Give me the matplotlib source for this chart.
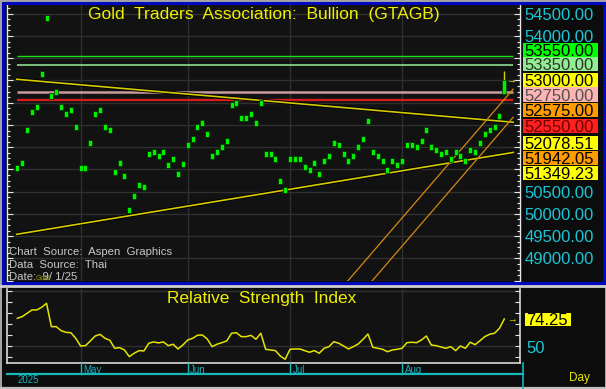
import numpy as np
import pandas as pd
import matplotlib
matplotlib.use("Agg")
import matplotlib.pyplot as plt
from matplotlib.path import Path
from matplotlib.patches import Rectangle
from matplotlib.ticker import MultipleLocator

plt.rcParams['font.family'] = ['Liberation Sans', 'DejaVu Sans']

# ---------------- data ----------------
dates = pd.bdate_range("2025-04-14", "2025-09-01")
close = [51039, 51145, 51893, 52291, 52397, 53146, 54398, 52644, 52748, 52397,
         52246, 52343, 51947, 51039, 51039, 51594, 52246, 52343, 51947, 51893,
         50942, 51145, 50846, 50088, 50396, 50643, 50598, 51347, 51399, 51295,
         51399, 51100, 51241, 50891, 51122, 51543, 51691, 51947, 52044, 51797,
         51295, 51392, 51498, 51646, 52449, 52494, 52150, 52150, 52246, 52044,
         52494, 51347, 51347, 51241, 50747, 50545, 51241, 51241, 51241, 51048,
         50994, 51145, 50897, 51197, 51295, 51594, 51543, 51347, 51197, 51295,
         51498, 51691, 52096, 51392, 51295, 51197, 50994, 51197, 51093, 51197,
         51543, 51543, 51498, 51646, 51893, 51498, 51444, 51347, 51392, 51241,
         51392, 51295, 51197, 51444, 51392, 51594, 51797, 51893, 51947, 52195,
         53000]
last_open, last_high = 52690, 53210

rsi = [74.9, 76.4, 79.4, 82.5, 82.5, 84.9, 88.5, 67.3, 67.3, 63.6,
       62.1, 61.8, 56.7, 49.7, 50.0, 54.3, 58.8, 60.3, 56.7, 54.9,
       47.6, 48.2, 46.1, 40.0, 43.1, 45.5, 45.2, 52.2, 53.4, 52.5,
       53.4, 50.0, 51.3, 47.0, 50.6, 55.2, 56.7, 59.5, 59.7, 56.1,
       49.1, 51.3, 52.7, 54.3, 61.3, 61.8, 58.2, 58.2, 59.4, 55.8,
       61.3, 46.7, 46.1, 45.5, 40.6, 37.6, 46.7, 47.0, 47.0, 45.5,
       44.0, 45.5, 43.1, 47.6, 49.1, 53.6, 52.2, 49.7, 47.0, 49.1,
       51.5, 55.8, 60.6, 48.5, 47.6, 46.7, 44.5, 46.1, 46.7, 47.6,
       52.7, 53.1, 52.7, 55.2, 58.8, 50.6, 50.0, 48.8, 47.6, 49.1,
       45.5, 49.7, 47.6, 53.1, 50.9, 54.5, 58.2, 60.4, 61.3, 65.8,
       74.25]

level_values = [53550, 53350, 52750, 52550]
level_colors = ['#18e018', '#8ede8e', '#c99c9c', '#d41c1c']
level_widths = [1.0, 1.2, 1.8, 1.7]

trend_upper = (53026, 52078.51)   # value at bar 0, bar 100
trend_lower = (49544, 51349.23)
chan_upper = (70, 48765, 100, 52575.00)
chan_lower = (75, 48767, 100, 51942.05)

label_values = [53550.00, 53350.00, 53000.00, 52750.00, 52575.00,
                52550.00, 52078.51, 51942.05, 51349.23]
label_faces = ['#00ff00', '#90ee90', '#ffff00', '#ffb4b4', '#ff9c00',
               '#ff2020', '#ffff00', '#ff9c00', '#ffff00']
label_texts = ['#000000', '#303030', '#000000', '#505050', '#000000',
               '#700000', '#000000', '#000000', '#000000']
axis_label_values = [54500, 54000, 50500, 50000, 49500, 49000]
rsi_last_label = "74.25"
title = "Gold  Traders  Association:  Bullion  (GTAGB)"
rsi_title = "Relative  Strength  Index"
source_lines = ["Chart  Source:  Aspen  Graphics", "Data  Source:  Thai", "Date:  9/ 1/25"]

# ---------------- layout ----------------
W, H = 606, 389
BAR0_PX, BAR_DX = 17.3, 4.87
MAIN_BOX = (7, 5, 520, 281)
RSI_BOX = (7, 288.5, 520, 362.7)
XLIM = ((MAIN_BOX[0] - BAR0_PX) / BAR_DX, (MAIN_BOX[2] - BAR0_PX) / BAR_DX)
MAIN_YLIM = (48492, 54697)
RSI_YLIM = (34.5, 102)
LINE_X0, LINE_X1 = -0.1, 101.8
label_y_px = [49.7, 63.8, 80.3, 94.5, 110, 125.8, 143, 158.3, 173]

GRID = '#303030'
BG = '#121212'
CYAN = '#1cc6d6'
YEL = '#ecec00'

fig = plt.figure(figsize=(W / 100, H / 100), dpi=100, facecolor='#101010')


def add_ax(box, z):
    x0, y0, x1, y1 = box
    return fig.add_axes([x0 / W, 1 - y1 / H, (x1 - x0) / W, (y1 - y0) / H], zorder=z)


def px_x(i):
    return MAIN_BOX[0] + (i - XLIM[0]) / (XLIM[1] - XLIM[0]) * (MAIN_BOX[2] - MAIN_BOX[0])


def px_main(v):
    return MAIN_BOX[1] + (MAIN_YLIM[1] - v) / (MAIN_YLIM[1] - MAIN_YLIM[0]) * (MAIN_BOX[3] - MAIN_BOX[1])


def px_rsi(v):
    return RSI_BOX[1] + (RSI_YLIM[1] - v) / (RSI_YLIM[1] - RSI_YLIM[0]) * (RSI_BOX[3] - RSI_BOX[1])


# background overlay
bg = fig.add_axes([0, 0, 1, 1], zorder=-10)
bg.set_xlim(0, W); bg.set_ylim(H, 0); bg.axis('off')
bg.add_patch(Rectangle((0, 0), W, H, fc='#0c0c0c', ec='none'))

idx = np.arange(len(close))
month_idx = [i for i in range(1, len(dates)) if dates[i].month != dates[i - 1].month and i < len(dates) - 1]
month_names = [dates[i].strftime('%b') for i in month_idx]

# ---------------- main panel ----------------
ax = add_ax(MAIN_BOX, 1)
ax.set_facecolor(BG)
ax.set_xlim(*XLIM)
ax.set_ylim(*MAIN_YLIM)
ax.yaxis.set_major_locator(MultipleLocator(500))
ax.yaxis.set_minor_locator(MultipleLocator(125))
ax.set_xticks(month_idx)
ax.grid(True, which='major', color=GRID, lw=1.0, zorder=0)
ax.tick_params(axis='x', which='both', bottom=False, top=False, labelbottom=False)
ax.tick_params(axis='y', which='both', direction='in', left=True, right=True,
               labelleft=False, labelright=False, colors='#e8e8e8', width=0.8)
ax.tick_params(axis='y', which='major', length=4)
ax.tick_params(axis='y', which='minor', length=2.5)
for s in ['top', 'bottom']:
    ax.spines[s].set_visible(False)
for s in ['left', 'right']:
    ax.spines[s].set_color('#e8e8e8'); ax.spines[s].set_linewidth(1.0)

ax.hlines(level_values, LINE_X0, LINE_X1, colors=level_colors, lw=level_widths, zorder=2)

xs = np.array([LINE_X0, LINE_X1])
for a, b in [trend_upper, trend_lower]:
    ys = a + (b - a) * xs / 100.0
    ax.plot(xs, ys, color='#000000', lw=2.6, zorder=2.5, solid_capstyle='butt')
    ax.plot(xs, ys, color='#d6ca00', lw=1.2, zorder=3)
for i0, v0, i1, v1 in [chan_upper, chan_lower]:
    slope = (v1 - v0) / (i1 - i0)
    cx = np.array([55, LINE_X1])
    ax.plot(cx, v0 + slope * (cx - i0), color='#d28a10', lw=0.9, zorder=3)

rect = Path([(-0.36, -0.5), (0.36, -0.5), (0.36, 0.5), (-0.36, 0.5), (-0.36, -0.5)],
            [Path.MOVETO, Path.LINETO, Path.LINETO, Path.LINETO, Path.CLOSEPOLY])
ax.plot(idx[:-1], close[:-1], ls='none', marker=rect, ms=4.2, mfc='#00f000',
        mec='#002a00', mew=0.5, zorder=4)
ax.vlines(idx[-1], close[-1], last_high, color='#c8d400', lw=1.0, zorder=4)
ax.bar(idx[-1], close[-1] - last_open, bottom=last_open, width=0.75,
       color='#00f000', edgecolor='#002a00', lw=0.4, zorder=5)
ax.text(101.3, close[-1], '\u2192', color=YEL, fontsize=7, ha='center', va='center', zorder=6)

# ---------------- RSI panel ----------------
rax = add_ax(RSI_BOX, 1)
rax.set_facecolor(BG)
rax.set_xlim(*XLIM)
rax.set_ylim(*RSI_YLIM)
rax.set_yticks([50, 100])
rax.yaxis.set_minor_locator(MultipleLocator(10))
rax.set_xticks(month_idx)
rax.grid(True, which='major', color=GRID, lw=1.0, zorder=0)
rax.tick_params(axis='x', which='both', bottom=False, top=False, labelbottom=False)
rax.tick_params(axis='y', which='both', direction='in', left=True, right=True,
                labelleft=False, labelright=False, colors='#e8e8e8', width=0.8, length=3.5)
rax.spines['top'].set_visible(False)
for s in ['left', 'right', 'bottom']:
    rax.spines[s].set_color('#d8d8d8'); rax.spines[s].set_linewidth(1.2)
rax.plot(idx, rsi, color='#e4e400', lw=1.1, zorder=3)
rax.text(101.6, rsi[-1], '\u2192', color=YEL, fontsize=7, ha='center', va='center', zorder=6)

# ---------------- foreground overlay (frames, texts, labels) ----------------
fg = fig.add_axes([0, 0, 1, 1], zorder=10)
fg.set_xlim(0, W); fg.set_ylim(H, 0); fg.axis('off'); fg.patch.set_alpha(0)

# frames
fg.add_patch(Rectangle((0.5, 0.5), W - 1, H - 1, fill=False, ec='#a8a8a8', lw=1.4))
fg.add_patch(Rectangle((3, 2.8), W - 5.5, 280.4, fill=False, ec='#0008c0', lw=2.2))
fg.plot([0, W], [286.2, 286.2], color='#d0d0d0', lw=2.0)
fg.plot([0, W], [388, 388], color='#c0c0c0', lw=1.6)

# titles
fg.text(263.5, 14, title, ha='center', va='center', color='#f0f000', fontsize=12.6)
fg.text(262, 298.5, rsi_title, ha='center', va='center', color='#f0f000', fontsize=12.4)

# source texts
for k, s in enumerate(source_lines):
    fg.text(9, 255 + k * 12.6, s, ha='left', va='baseline', color='#c8c8c8', fontsize=8.2)
fg.text(36, 279.5, 'Gold', ha='left', va='baseline', color='#a0a000', fontsize=5)

# right axis plain labels (cyan)
for v in axis_label_values:
    fg.text(524.5, px_main(v) + 6, f"{v:.2f}", ha='left', va='baseline',
            color=CYAN, fontsize=12, zorder=2)

# coloured value boxes
for v, yp, fc, tc in zip(label_values, label_y_px, label_faces, label_texts):
    fg.add_patch(Rectangle((523, yp - 7.1), 74.5, 14.2, fc=fc, ec='none', zorder=3))
    fg.text(524.5, yp + 6, f"{v:.2f}", ha='left', va='baseline', color=tc, fontsize=12, zorder=4)

# RSI right labels
yr = px_rsi(rsi[-1])
fg.add_patch(Rectangle((524.5, yr - 6.2), 46.5, 12.8, fc='#ffff00', ec='none', zorder=3))
fg.text(526, yr + 6, rsi_last_label, ha='left', va='baseline', color='#000000', fontsize=12, zorder=4)
fg.text(526, px_rsi(50) + 7.5, "50", ha='left', va='baseline', color=CYAN, fontsize=12)

# date strip
fg.plot([7, 522.6], [374, 374], color='#18b8b8', lw=1.6)
fg.plot([522.6, 522.6], [362.7, 389], color='#18b8b8', lw=1.2)
for i, name in zip(month_idx, month_names):
    xp = px_x(i)
    fg.plot([xp, xp], [363, 374], color='#18b8b8', lw=1.0)
    fg.text(xp + 2.5, 373, name, ha='left', va='baseline', color='#18b0c0', fontsize=7)
fg.text(18, 383, str(dates[0].year), ha='left', va='baseline', color='#18b0c0', fontsize=7)
fg.text(569, 380.5, "Day", ha='left', va='baseline', color='#e8e800', fontsize=8.5)

fig.savefig("out.png", dpi=100, facecolor=fig.get_facecolor())
